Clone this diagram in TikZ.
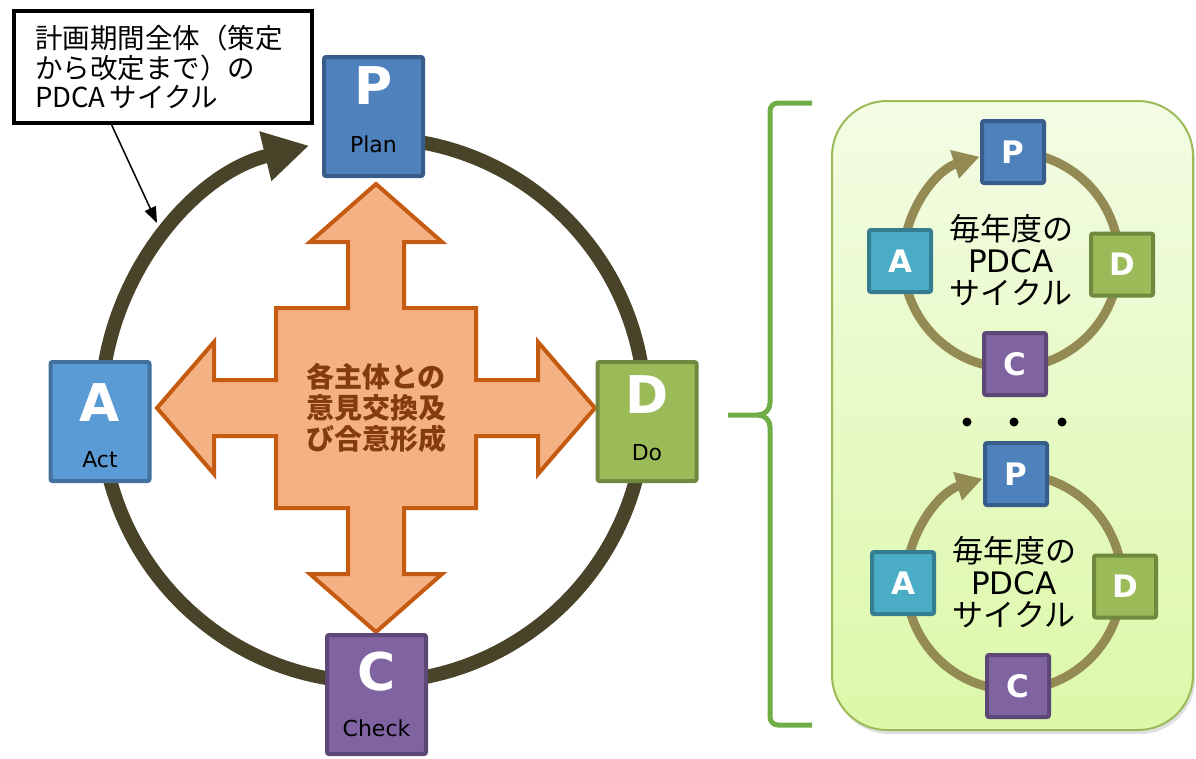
\documentclass[tikz,border=0pt]{standalone}
\usepackage{fontspec}
\setmainfont{Noto Sans CJK JP}
\newfontfamily\latinfont{DejaVu Sans}
\usepackage{tikz}
\usetikzlibrary{arrows.meta,calc,shadows}

\definecolor{ringdark}{HTML}{494429}
\definecolor{ringtan}{HTML}{948A54}
\definecolor{pfill}{HTML}{4F81BD}
\definecolor{pline}{HTML}{385D8A}
\definecolor{afill}{HTML}{5B9BD5}
\definecolor{aline}{HTML}{41719C}
\definecolor{asmall}{HTML}{4BACC6}
\definecolor{asmline}{HTML}{357D91}
\definecolor{dfill}{HTML}{9BBB59}
\definecolor{dline}{HTML}{71893F}
\definecolor{cfill}{HTML}{8064A2}
\definecolor{cline}{HTML}{5C4776}
\definecolor{crossfill}{HTML}{F4B183}
\definecolor{crossline}{HTML}{C55A11}
\definecolor{crosstext}{HTML}{843C0C}
\definecolor{bracegreen}{HTML}{70AD47}
\definecolor{paneltop}{HTML}{F3FCE4}
\definecolor{panelbottom}{HTML}{DCF8A8}
\definecolor{panelline}{HTML}{9BBB59}

\begin{document}
\begin{tikzpicture}[x=1pt,y=1pt]
  \tikzset{bigbox/.style = {shape=rectangle,draw,line width=4pt,rounded corners=2pt,
      minimum width=99pt,minimum height=119pt,inner sep=0pt}}
  \tikzset{smallbox/.style = {shape=rectangle,draw,line width=4pt,rounded corners=2pt,
      minimum size=62pt,inner sep=0pt,text=white,font=\latinfont\bfseries\fontsize{31}{31}\selectfont}}
  \tikzset{bigletter/.style = {anchor=base,text=white,inner sep=0pt,font=\latinfont\bfseries\fontsize{52}{52}\selectfont}}
  \tikzset{boxword/.style = {anchor=base,inner sep=0pt,font=\latinfont\fontsize{22}{22}\selectfont}}
  \tikzset{bigring/.style = {draw=ringdark,line width=14pt,-{Triangle[width=48pt,length=45pt]}}}
  \tikzset{smallring/.style = {draw=ringtan,line width=9pt,-{Triangle[width=28pt,length=26pt]}}}
  \tikzset{cycletext/.style = {align=center,inner sep=0pt,font=\fontsize{31}{32}\selectfont}}
  \tikzset{dot/.style = {shape=circle,fill=black,minimum size=9pt,inner sep=0pt}}

  \useasboundingbox (0,0) rectangle (1196,-758);

  % big cycle
  \draw[bigring] (373,-410) ++(85:272) arc[start angle=85,end angle=-256.4,radius=272];

  % cross arrow
  \begin{scope}[shift={(376,-408)}]
    \draw[fill=crossfill,draw=crossline,line width=4pt,line join=miter]
      (0,224) -- (66,166) -- (28,166) -- (28,100) -- (100,100) -- (100,28) -- (162,28) -- (162,66)
      -- (219,0) -- (162,-66) -- (162,-28) -- (100,-28) -- (100,-100) -- (28,-100) -- (28,-166)
      -- (66,-166) -- (0,-224) -- (-66,-166) -- (-28,-166) -- (-28,-100) -- (-100,-100) -- (-100,-28)
      -- (-162,-28) -- (-162,-66) -- (-219,0) -- (-162,66) -- (-162,28) -- (-100,28) -- (-100,100)
      -- (-28,100) -- (-28,166) -- (-66,166) -- cycle;
  \end{scope}
  \node[align=center,text=crosstext,inner sep=0pt,font=\bfseries\fontsize{28}{31}\selectfont]
    (talk) at (376,-408) {各主体との\\意見交換及\\び合意形成};

  % boxes
  \node[bigbox,fill=pfill,draw=pline] (plan) at (373.5,-116.5) {};
  \node[bigbox,fill=afill,draw=aline] (act) at (100,-421.5) {};
  \node[bigbox,fill=dfill,draw=dline] (do) at (647,-421.5) {};
  \node[bigbox,fill=cfill,draw=cline] (check) at (376.5,-694.5) {};

  \node[bigletter] (plan-letter) at ([yshift=-49pt]plan.north) {P};
  \node[boxword] (plan-word) at ([yshift=-97pt]plan.north) {Plan};
  \node[bigletter] (act-letter) at ([yshift=-61pt]act.north) {A};
  \node[boxword] (act-word) at ([yshift=-107pt]act.north) {Act};
  \node[bigletter] (do-letter) at ([yshift=-53pt]do.north) {D};
  \node[boxword] (do-word) at ([yshift=-100pt]do.north) {Do};
  \node[bigletter] (check-letter) at ([yshift=-57pt]check.north) {C};
  \node[boxword] (check-word) at ([yshift=-103pt]check.north) {Check};

  % callout
  \node[draw,line width=4pt,minimum width=298pt,minimum height=112pt,text width=256pt,
    inner xsep=21pt,align=left,font=\fontsize{27.5}{29.5}\selectfont]
    (callout) at (163,-67) {計画期間全体（策定\\から改定まで）の\\PDCA\hspace{4pt}サイクル};
  \coordinate (ringpt) at (157,-223);
  \draw[line width=1.5pt,-{Triangle[width=12pt,length=16pt]}]
    ($(callout.south west)!0.33!(callout.south east)$) -- (ringpt);

  % brace
  \draw[draw=bracegreen,line width=5pt,line join=round]
    (812,-103) -- (778,-103) to[out=180,in=90] (770,-111) -- (770,-403)
    to[out=-90,in=0] (758,-415) -- (728,-415);
  \draw[draw=bracegreen,line width=5pt,line join=round]
    (758,-415) to[out=0,in=90] (770,-427) -- (770,-717)
    to[out=-90,in=180] (778,-725) -- (812,-725);

  % panel
  \draw[rounded corners=55pt,draw=panelline,line width=2pt,top color=paneltop,bottom color=panelbottom,
    drop shadow={shadow xshift=2pt,shadow yshift=-4pt,opacity=0.25}]
    (832,-101) rectangle (1193,-730);

  % yearly cycles
  \draw[smallring] (1011,-260) ++(85:108) arc[start angle=85,end angle=-253,radius=108];
  \node[smallbox,fill=pfill,draw=pline] (p1) at (1013,-152) {P};
  \node[smallbox,fill=asmall,draw=asmline] (a1) at (900,-261) {A};
  \node[smallbox,fill=dfill,draw=dline] (d1) at (1122,-264.5) {D};
  \node[smallbox,fill=cfill,draw=cline] (c1) at (1015,-364) {C};
  \node[cycletext] (year1) at (1011,-260) {毎年度の\\{\latinfont PDCA}\\サイクル};

  \node[dot] (dot1) at (967,-422) {};
  \node[dot] (dot2) at (1014,-422) {};
  \node[dot] (dot3) at (1062,-422) {};

  \draw[smallring] (1014,-582) ++(85:108) arc[start angle=85,end angle=-253,radius=108];
  \node[smallbox,fill=pfill,draw=pline] (p2) at (1016,-474) {P};
  \node[smallbox,fill=asmall,draw=asmline] (a2) at (903,-583) {A};
  \node[smallbox,fill=dfill,draw=dline] (d2) at (1125,-586.5) {D};
  \node[smallbox,fill=cfill,draw=cline] (c2) at (1018,-686) {C};
  \node[cycletext] (year2) at (1014,-582) {毎年度の\\{\latinfont PDCA}\\サイクル};
\end{tikzpicture}
\end{document}
